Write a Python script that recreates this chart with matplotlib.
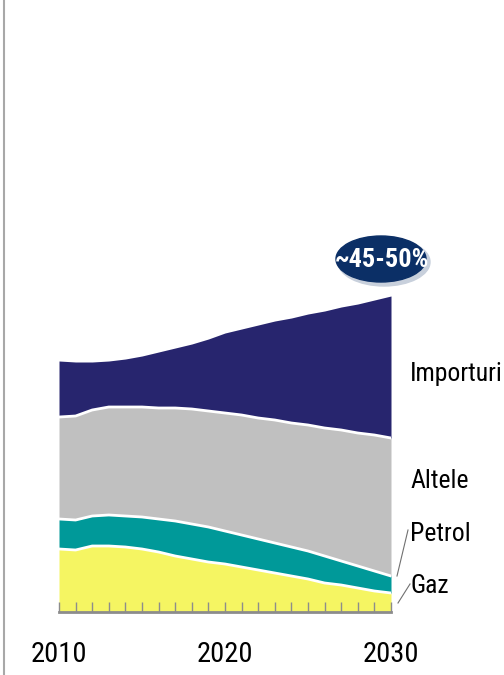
import matplotlib
matplotlib.use("Agg")
import matplotlib.pyplot as plt
from matplotlib.patches import Ellipse

plt.rcParams['font.family'] = ['Roboto Condensed', 'DejaVu Sans']

years = list(range(2010, 2031))
gaz = [63, 62, 66, 66, 65, 63, 60, 56, 53, 50, 48, 45, 42, 39, 36, 33, 29, 27, 24, 21, 19]
petrol = [30, 30, 30, 31, 31, 32, 33, 35, 35, 35, 33, 32, 31, 30, 29, 28, 27, 24, 22, 20, 17]
altele = [102, 104, 106, 108, 109, 110, 111, 113, 115, 116, 118, 120, 121, 123, 124, 126, 128, 131, 133, 136, 138]
importuri = [56, 54, 48, 46, 48, 51, 56, 60, 65, 72, 80, 86, 93, 99, 105, 111, 117, 123, 129, 135, 142]

layers = [gaz, petrol, altele, importuri]
colors = ['#F5F562', '#009999', '#C0C0C0', '#27256E']
labels = ['Gaz', 'Petrol', 'Altele', 'Importuri']
share_label = '~45-50%'

W, H = 504, 675
fig = plt.figure(figsize=(W / 100, H / 100), dpi=100)
ax = fig.add_axes([59 / W, (H - 612) / H, (391 - 59) / W, 612 / H])

bottom = [0] * len(years)
for vals, col in zip(layers, colors):
    top = [b + v for b, v in zip(bottom, vals)]
    ax.fill_between(years, bottom, top, color=col, lw=0)
    bottom = top
# white separators between layers
bottom = [0] * len(years)
for vals in layers[:-1]:
    bottom = [b + v for b, v in zip(bottom, vals)]
    ax.plot(years, bottom, color='white', lw=2)

ax.set_xlim(2010, 2030)
ax.set_ylim(0, 612)
for s in ['left', 'right', 'top']:
    ax.spines[s].set_visible(False)
ax.spines['bottom'].set_color('#8C8C8C')
ax.spines['bottom'].set_linewidth(2)
ax.set_yticks([])
ax.set_xticks([2010, 2020, 2030])
ax.set_xticks(years, minor=True)
ax.tick_params(axis='x', which='both', direction='in', length=7, width=1,
               color='#8C8C8C', pad=21, labelsize=20.5)
ax.patch.set_alpha(0)

# overlay in pixel coordinates for annotations
ov = fig.add_axes([0, 0, 1, 1])
ov.set_xlim(0, W)
ov.set_ylim(H, 0)
ov.axis('off')
ov.plot([4, 4], [0, H], color='#A8A8A8', lw=1.5)

label_y = [593, 541, 488, 381]
for lab, y in zip(labels, label_y):
    ov.text(410, y, lab, fontsize=18.5, va='baseline', ha='left')
ov.plot([408, 397], [530, 576], color='#707070', lw=0.8)
ov.plot([410, 398], [584, 603], color='#707070', lw=0.8)

ov.add_patch(Ellipse((384, 262), 92, 48, color='#C8D0DC'))
ov.add_patch(Ellipse((381, 259), 90, 46, color='#0B2F66'))
ov.text(382, 260, share_label, color='white', fontsize=19, fontweight='bold',
        ha='center', va='center')

fig.savefig('out.png', dpi=100)
